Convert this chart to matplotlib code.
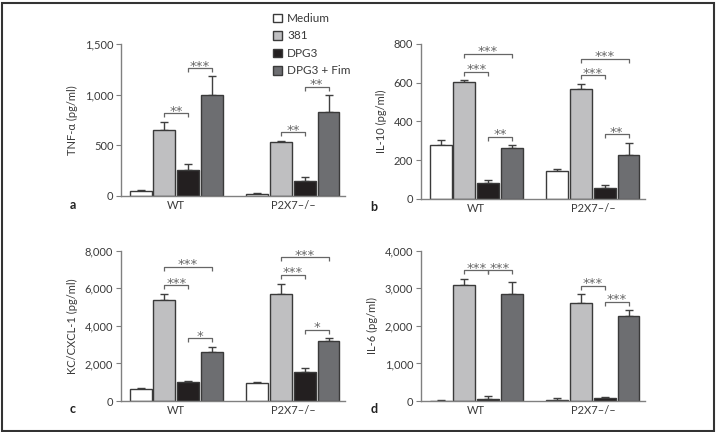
import matplotlib
matplotlib.use("Agg")
import matplotlib.pyplot as plt
from matplotlib.patches import Rectangle
import numpy as np

plt.rcParams['font.family'] = ['Lato', 'DejaVu Sans']

# ---------------- data ----------------
groups = ['WT', 'P2X7\u2013/\u2013']
treatments = ['Medium', '381', 'DPG3', 'DPG3 + Fim']

tnf_mean = [[45, 653, 262, 1000], [16, 536, 150, 835]]
tnf_err = [[12, 78, 53, 185], [10, 8, 36, 168]]
tnf_sig = [(0, 1, 2, 818, '**'), (0, 2, 3, 1264, '***'),
           (1, 1, 2, 630, '**'), (1, 2, 3, 1082, '**')]

il10_mean = [[276, 601, 83, 262], [145, 567, 53, 228]]
il10_err = [[27, 11, 12, 16], [7, 28, 16, 60]]
il10_sig = [(0, 1, 3, 750, '***'), (0, 1, 2, 655, '***'), (0, 2, 3, 319, '**'),
            (1, 1, 3, 722, '***'), (1, 1, 2, 638, '***'), (1, 2, 3, 333, '**')]

kc_mean = [[660, 5400, 990, 2590], [960, 5690, 1540, 3190]]
kc_err = [[40, 300, 70, 270], [50, 550, 195, 160]]
kc_sig = [(0, 1, 3, 7145, '***'), (0, 1, 2, 6152, '***'), (0, 2, 3, 3333, '*'),
          (1, 1, 3, 7642, '***'), (1, 1, 2, 6702, '***'), (1, 2, 3, 3794, '*')]

il6_mean = [[5, 3076, 53, 2855], [27, 2606, 80, 2252]]
il6_err = [[10, 177, 80, 300], [53, 240, 18, 168]]
il6_sig = [(0, 1, 2, 3475, '***'), (0, 2, 3, 3475, '***'),
           (1, 1, 2, 3067, '***'), (1, 2, 3, 2633, '***')]

panels = [
    dict(mean=tnf_mean, err=tnf_err, sig=tnf_sig, ylabel='TNF-\u03b1 (pg/ml)',
         ymax=1500, ticks=[0, 500, 1000, 1500], ticklabels=['0', '500', '1,000', '1,500'], letter='a'),
    dict(mean=il10_mean, err=il10_err, sig=il10_sig, ylabel='IL-10 (pg/ml)',
         ymax=800, ticks=[0, 200, 400, 600, 800], ticklabels=['0', '200', '400', '600', '800'], letter='b'),
    dict(mean=kc_mean, err=kc_err, sig=kc_sig, ylabel='KC/CXCL-1 (pg/ml)',
         ymax=8000, ticks=[0, 2000, 4000, 6000, 8000],
         ticklabels=['0', '2,000', '4,000', '6,000', '8,000'], letter='c'),
    dict(mean=il6_mean, err=il6_err, sig=il6_sig, ylabel='IL-6 (pg/ml)',
         ymax=4000, ticks=[0, 1000, 2000, 3000, 4000],
         ticklabels=['0', '1,000', '2,000', '3,000', '4,000'], letter='d'),
]

# ---------------- style ----------------
W, H = 716, 432
colors = ['#ffffff', '#bfbfc1', '#231f20', '#6d6e71']
edge = '#3a3a3a'
txt = '#3a3a3a'
axcol = '#808080'
sigcol = '#666666'

fig = plt.figure(figsize=(W / 100, H / 100), dpi=100)

# axes rectangles in pixels: left, top, right, bottom
rects = [(121, 44.3, 344.7, 196), (421, 44, 644.7, 198.7),
         (121, 250.7, 344.7, 401), (421, 250.7, 644.7, 401)]
letter_pos = [(73, 205), (374, 206.7), (73, 409), (374, 409)]

group_pos = np.array([0.0, 4.92])
offsets = np.array([-1.5, -0.5, 0.5, 1.5])
bw = 0.92

handles = None
for p, (l, t, r, b), (lx, ly) in zip(panels, rects, letter_pos):
    ax = fig.add_axes([l / W, 1 - b / H, (r - l) / W, (b - t) / H])
    hs = []
    for k in range(4):
        xs = group_pos + offsets[k]
        vals = [p['mean'][g][k] for g in range(2)]
        errs = [p['err'][g][k] for g in range(2)]
        bars = ax.bar(xs, vals, width=bw, color=colors[k], edgecolor=edge,
                      linewidth=1.0, label=treatments[k], zorder=2)
        ax.errorbar(xs, vals, yerr=[np.zeros(2), errs], fmt='none',
                    ecolor='#404040', elinewidth=1.0, capsize=2.6, capthick=1.0, zorder=1)
        hs.append(bars)
    if handles is None:
        handles = hs
    ax.set_ylim(0, p['ymax'])
    ax.set_xlim(-2.33, 7.1)
    ax.set_yticks(p['ticks'])
    ax.set_yticklabels(p['ticklabels'])
    ax.set_xticks(group_pos)
    ax.set_xticklabels(groups)
    for s in ['top', 'right']:
        ax.spines[s].set_visible(False)
    for s in ['left', 'bottom']:
        ax.spines[s].set_color(axcol)
        ax.spines[s].set_linewidth(1.0)
    ax.tick_params(axis='y', length=3.5, width=0.8, color=axcol, labelsize=8,
                   labelcolor=txt, pad=2)
    ax.tick_params(axis='x', length=0, labelsize=8, labelcolor=txt, pad=3)
    ax.set_ylabel(p['ylabel'], fontsize=8, color=txt, labelpad=5)
    ax.patch.set_visible(False)

    # significance brackets
    axh = b - t
    tick = 4.0 / axh * p['ymax']
    for g, i, j, y, lab in p['sig']:
        x1 = group_pos[g] + offsets[i]
        x2 = group_pos[g] + offsets[j]
        ax.plot([x1, x1, x2, x2], [y - tick, y, y, y - tick], color=sigcol,
                lw=0.9, solid_capstyle='butt', zorder=3, clip_on=False)
        ax.annotate(lab, xy=((x1 + x2) / 2, y), xytext=(0, -1.0),
                    textcoords='offset points', ha='center', va='baseline',
                    fontsize=9.5, color=sigcol, family='DejaVu Sans', annotation_clip=False)

    fig.text(lx / W, 1 - ly / H, p['letter'], fontsize=9, fontweight='bold',
             color='#222222', ha='center', va='center')

leg = fig.legend(handles, treatments, loc='upper left',
                 bbox_to_anchor=(273 / W, 1 - 13 / H), frameon=False,
                 fontsize=8.5, handlelength=0.75, handleheight=0.75,
                 handletextpad=0.45, labelspacing=0.55, borderaxespad=0, borderpad=0)
for t_ in leg.get_texts():
    t_.set_color(txt)

fig.add_artist(Rectangle((1.5 / W, 1.5 / H), (W - 4) / W, (H - 4) / H,
                         transform=fig.transFigure, fill=False,
                         edgecolor='#333333', linewidth=1.5))

fig.savefig('out.png', dpi=100)
